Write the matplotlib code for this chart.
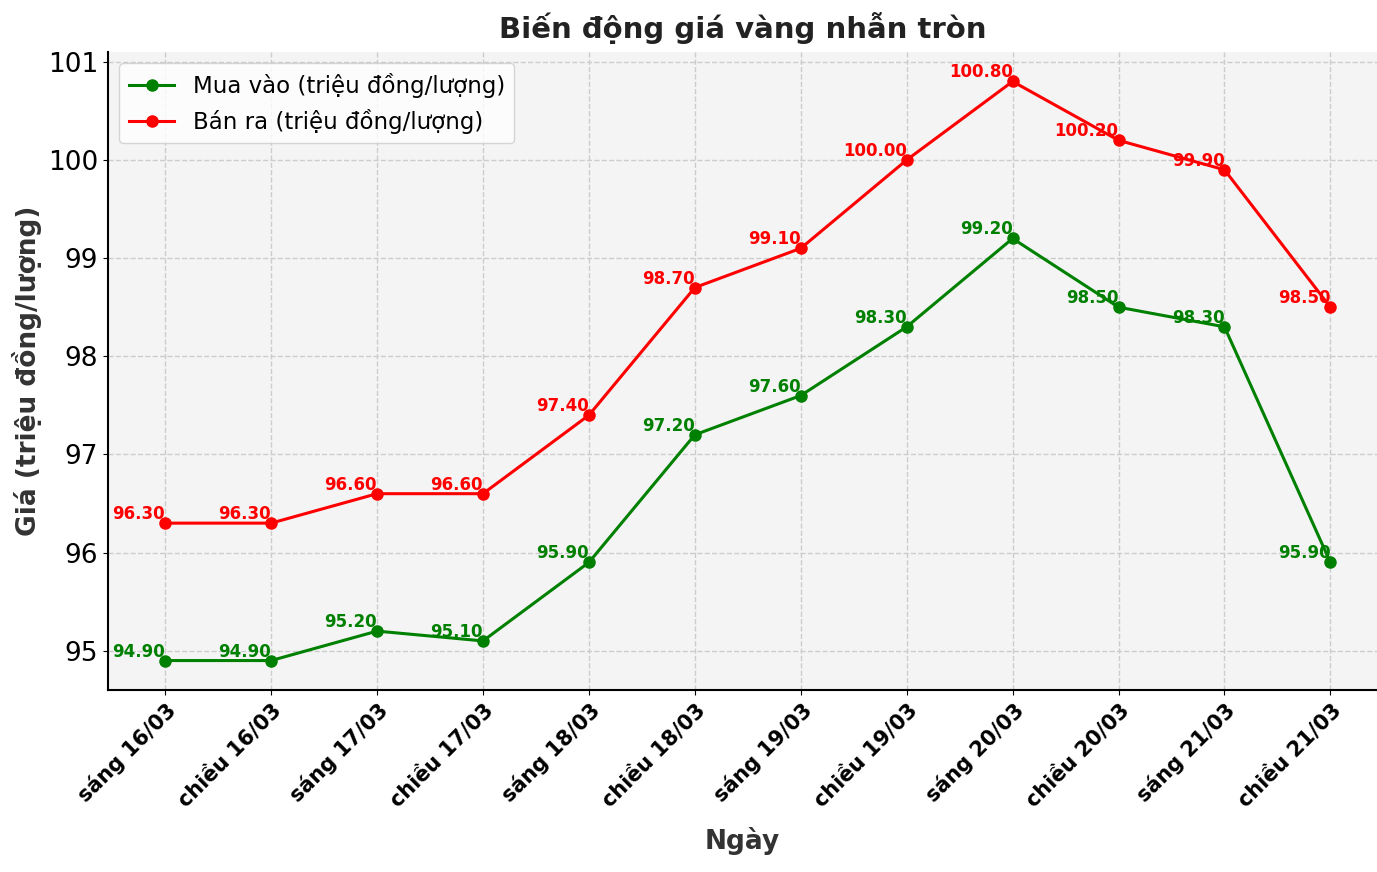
import matplotlib
matplotlib.use("Agg")
import matplotlib.pyplot as plt

labels = ["sáng 16/03", "chiều 16/03", "sáng 17/03", "chiều 17/03", "sáng 18/03", "chiều 18/03",
          "sáng 19/03", "chiều 19/03", "sáng 20/03", "chiều 20/03", "sáng 21/03", "chiều 21/03"]
buy = [94.9, 94.9, 95.2, 95.1, 95.9, 97.2, 97.6, 98.3, 99.2, 98.5, 98.3, 95.9]
sell = [96.3, 96.3, 96.6, 96.6, 97.4, 98.7, 99.1, 100.0, 100.8, 100.2, 99.9, 98.5]

fig = plt.figure(figsize=(13.77, 8.72), dpi=100)
ax = fig.add_axes([108/1377, 1-690/872, 1269/1377, 638/872])
ax.set_facecolor("#f4f4f4")
x = list(range(len(labels)))
ax.plot(x, buy, "-o", color="green", lw=2.2, ms=8, label="Mua vào (triệu đồng/lượng)")
ax.plot(x, sell, "-o", color="red", lw=2.2, ms=8, label="Bán ra (triệu đồng/lượng)")
for xi, v in zip(x, buy):
    ax.annotate(f"{v:.2f}", (xi, v), xytext=(0, 0), textcoords="offset points",
                ha="right", va="bottom", color="green", fontsize=12, fontweight="bold")
for xi, v in zip(x, sell):
    ax.annotate(f"{v:.2f}", (xi, v), xytext=(0, 0), textcoords="offset points",
                ha="right", va="bottom", color="red", fontsize=12, fontweight="bold")
ax.set_xlim(-0.54, 11.44)
ax.set_ylim(94.6, 101.1)
ax.set_xticks(x)
ax.set_xticklabels(labels, rotation=45, ha="right", rotation_mode="anchor", fontsize=15, fontweight="bold")
ax.tick_params(axis="y", labelsize=19)
ax.grid(True, linestyle="--", color="#cccccc", lw=1)
for s in ["top", "right"]:
    ax.spines[s].set_visible(False)
ax.spines["left"].set_linewidth(1.5)
ax.spines["bottom"].set_linewidth(1.5)
ax.set_xlabel("Ngày", fontsize=19, fontweight="bold", color="#333333", labelpad=12)
ax.set_ylabel("Giá (triệu đồng/lượng)", fontsize=19, fontweight="bold", color="#333333")
ax.set_title("Biến động giá vàng nhẫn tròn", fontsize=21, fontweight="bold", color="#222222", pad=10)
ax.legend(loc="upper left", fontsize=16.5, edgecolor="#cccccc")
fig.savefig("out.png", dpi=100)
